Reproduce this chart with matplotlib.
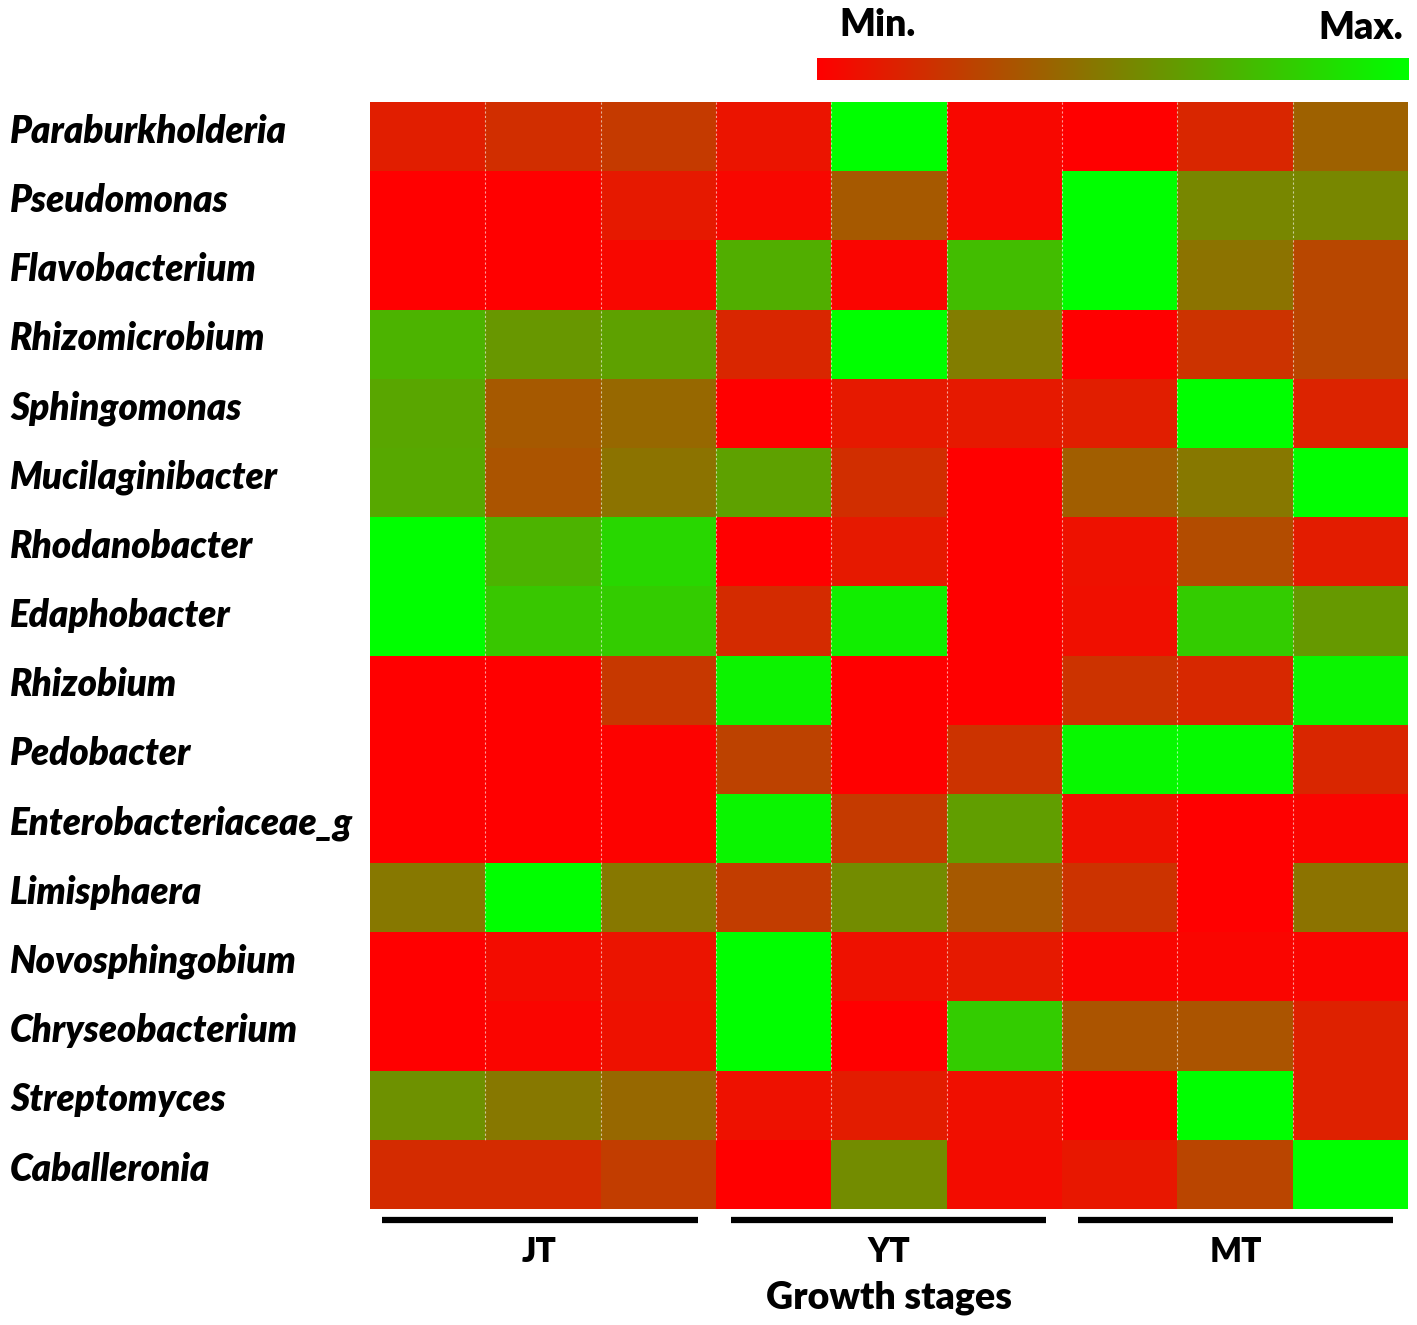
import numpy as np
import matplotlib
matplotlib.use("Agg")
import matplotlib.pyplot as plt
from matplotlib.colors import LinearSegmentedColormap

# genus names, top to bottom
genera = [
    "Paraburkholderia", "Pseudomonas", "Flavobacterium", "Rhizomicrobium",
    "Sphingomonas", "Mucilaginibacter", "Rhodanobacter", "Edaphobacter",
    "Rhizobium", "Pedobacter", "Enterobacteriaceae_g", "Limisphaera",
    "Novosphingobium", "Chryseobacterium", "Streptomyces", "Caballeronia",
]
stages = ["JT", "YT", "MT"]

# relative abundance scaled 0 (min) .. 1 (max), 3 replicates per stage
jt = [
    [0.12, 0.18, 0.23],
    [0.00, 0.00, 0.10],
    [0.00, 0.00, 0.03],
    [0.70, 0.59, 0.63],
    [0.65, 0.35, 0.41],
    [0.66, 0.33, 0.45],
    [1.00, 0.70, 0.84],
    [1.00, 0.78, 0.80],
    [0.00, 0.00, 0.22],
    [0.00, 0.00, 0.01],
    [0.00, 0.00, 0.01],
    [0.47, 1.00, 0.47],
    [0.00, 0.05, 0.08],
    [0.00, 0.02, 0.07],
    [0.57, 0.47, 0.41],
    [0.17, 0.17, 0.24],
]
yt = [
    [0.08, 1.00, 0.03],
    [0.03, 0.35, 0.03],
    [0.68, 0.02, 0.74],
    [0.15, 1.00, 0.49],
    [0.00, 0.10, 0.10],
    [0.63, 0.18, 0.00],
    [0.00, 0.10, 0.00],
    [0.17, 0.93, 0.00],
    [0.95, 0.00, 0.00],
    [0.26, 0.00, 0.20],
    [0.96, 0.23, 0.62],
    [0.24, 0.55, 0.35],
    [1.00, 0.07, 0.10],
    [1.00, 0.00, 0.80],
    [0.07, 0.11, 0.06],
    [0.00, 0.55, 0.05],
]
mt = [
    [0.00, 0.15, 0.38],
    [1.00, 0.53, 0.53],
    [1.00, 0.45, 0.28],
    [0.00, 0.20, 0.27],
    [0.12, 1.00, 0.14],
    [0.37, 0.47, 1.00],
    [0.07, 0.30, 0.11],
    [0.06, 0.80, 0.60],
    [0.20, 0.16, 0.96],
    [0.97, 0.98, 0.15],
    [0.07, 0.00, 0.02],
    [0.20, 0.00, 0.45],
    [0.02, 0.02, 0.02],
    [0.33, 0.33, 0.13],
    [0.00, 1.00, 0.13],
    [0.09, 0.27, 1.00],
]

data = np.hstack([np.array(jt), np.array(yt), np.array(mt)])
n_rows, n_cols = data.shape

cmap = LinearSegmentedColormap.from_list("rg", ["#ff0000", "#00ff00"])
fam = ["Lato", "DejaVu Sans"]

fig = plt.figure(figsize=(14.17, 13.25), dpi=100)
ax = fig.add_axes([0.2611, 0.0875, 0.7325, 0.8355])
ax.pcolormesh(np.arange(n_cols + 1), np.arange(n_rows + 1), data,
              cmap=cmap, vmin=0, vmax=1)
ax.set_xlim(0, n_cols)
ax.set_ylim(n_rows, 0)
ax.set_axis_off()

# faint dashed separators between replicate columns
for c in range(1, n_cols):
    ax.plot([c, c], [0, n_rows - 1], color="white", lw=0.8, alpha=0.6,
            ls=(0, (2, 2)))

# genus labels on the left (left edge at ~10 px)
for i, g in enumerate(genera):
    fig.text(10 / 1417, 1 - (102 + (i + 0.42) * 69.2) / 1325, g,
             ha="left", va="center", family=fam, fontsize=26.5,
             fontweight="heavy", fontstyle="italic")

# stage bars and labels underneath
bar_x = [(0.10, 2.84), (3.13, 5.86), (6.14, 8.87)]
for (x0, x1), s in zip(bar_x, stages):
    ax.plot([x0, x1], [16.16, 16.16], color="black", lw=4.5,
            solid_capstyle="butt", clip_on=False)
    ax.text((x0 + x1) / 2, 16.62, s, ha="center", va="center",
            family=fam, fontsize=24, fontweight="heavy")
ax.text(4.5, 17.28, "Growth stages", ha="center", va="center",
        family=fam, fontsize=27, fontweight="heavy")

# colour key at the top
cax = fig.add_axes([0.5766, 0.9396, 0.4171, 0.0166])
cax.imshow(np.linspace(0, 1, 256)[None, :], aspect="auto", cmap=cmap,
           extent=[0, 1, 0, 1])
cax.set_axis_off()
fig.text(0.619, 0.981, "Min.", ha="center", va="center",
         family=fam, fontsize=27, fontweight="heavy")
fig.text(0.960, 0.979, "Max.", ha="center", va="center",
         family=fam, fontsize=27, fontweight="heavy")

fig.savefig("out.png", dpi=100)
